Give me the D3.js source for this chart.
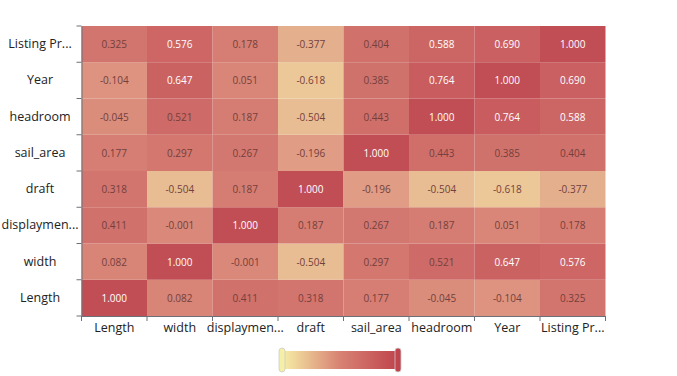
<!DOCTYPE html>
<html>
<head>
<meta charset="utf-8">
<script src="https://cdn.jsdelivr.net/npm/d3@7"></script>
<style>
  body { margin: 0; background: #fff; }
  svg { font-family: "Open Sans", "Noto Sans", sans-serif; }
</style>
</head>
<body>
<div id="chart"></div>
<script>
const xCats = ["Length", "width", "displaymen...", "draft", "sail_area", "headroom", "Year", "Listing Pr..."];
const yCats = ["Length", "width", "displaymen...", "draft", "sail_area", "headroom", "Year", "Listing Pr..."];

// rows follow yCats (bottom to top), columns follow xCats
const corr = [
  [1.000, 0.082, 0.411, 0.318, 0.177, -0.045, -0.104, 0.325],
  [0.082, 1.000, -0.001, -0.504, 0.297, 0.521, 0.647, 0.576],
  [0.411, -0.001, 1.000, 0.187, 0.267, 0.187, 0.051, 0.178],
  [0.318, -0.504, 0.187, 1.000, -0.196, -0.504, -0.618, -0.377],
  [0.177, 0.297, 0.267, -0.196, 1.000, 0.443, 0.385, 0.404],
  [-0.045, 0.521, 0.187, -0.504, 0.443, 1.000, 0.764, 0.588],
  [-0.104, 0.647, 0.051, -0.618, 0.385, 0.764, 1.000, 0.690],
  [0.325, 0.576, 0.178, -0.377, 0.404, 0.588, 0.690, 1.000]
];

const W = 677, H = 376;
const plot = { left: 81.5, top: 26, right: 605.5, bottom: 316 };

const svg = d3.select("#chart").append("svg")
  .attr("width", W).attr("height", H);

const x = d3.scaleBand().domain(xCats).range([plot.left, plot.right]);
const y = d3.scaleBand().domain(yCats).range([plot.bottom, plot.top]);

// visual map de -1 a 1
const colors = ["#f6efa6", "#d88273", "#bf444c"];
const color = d3.scaleLinear()
  .domain([-1, 0, 1])
  .range(colors)
  .interpolate(d3.interpolateRgb);

const fmt = v => d3.format(".3f")(v).replace("\u2212", "-");

const cells = [];
corr.forEach((row, i) => row.forEach((v, j) => cells.push({ r: yCats[i], c: xCats[j], v })));

svg.append("g").selectAll("rect")
  .data(cells).enter().append("rect")
  .attr("x", d => x(d.c))
  .attr("y", d => y(d.r))
  .attr("width", x.bandwidth())
  .attr("height", y.bandwidth())
  .attr("fill", d => color(d.v))
  .attr("fill-opacity", 0.95);

svg.append("g").selectAll("text")
  .data(cells).enter().append("text")
  .attr("x", d => x(d.c) + x.bandwidth() / 2)
  .attr("y", d => y(d.r) + y.bandwidth() / 2)
  .attr("text-anchor", "middle")
  .attr("dominant-baseline", "central")
  .attr("font-size", 10)
  .attr("fill", d => d.v > 0.55 ? "#fff" : "#74403b")
  .text(d => fmt(d.v));

// Eje X
const gx = svg.append("g")
  .attr("transform", `translate(0,${plot.bottom})`)
  .call(d3.axisBottom(x).tickSize(0));
gx.select(".domain").attr("stroke", "#6e7079");
gx.selectAll("text").attr("font-size", 12.5).attr("fill", "#222")
  .attr("font-family", "Open Sans, sans-serif").attr("dy", "1.05em");
gx.selectAll(".sep").data(d3.range(xCats.length + 1)).enter()
  .append("line").attr("class", "sep")
  .attr("x1", i => plot.left + i * x.bandwidth())
  .attr("x2", i => plot.left + i * x.bandwidth())
  .attr("y1", 0).attr("y2", 5)
  .attr("stroke", "#6e7079");

// Eje Y
const gy = svg.append("g")
  .attr("transform", `translate(${plot.left},0)`)
  .call(d3.axisLeft(y).tickSize(0));
gy.select(".domain").attr("stroke", "#6e7079");
gy.selectAll("text").attr("font-size", 12.5).attr("fill", "#222")
  .attr("font-family", "Open Sans, sans-serif")
  .attr("text-anchor", "middle").attr("x", 40 - plot.left);
gy.selectAll(".sep").data(d3.range(yCats.length + 1)).enter()
  .append("line").attr("class", "sep")
  .attr("y1", i => plot.top + i * y.bandwidth())
  .attr("y2", i => plot.top + i * y.bandwidth())
  .attr("x1", 0).attr("x2", -5)
  .attr("stroke", "#6e7079");

// Leyenda continua
const lg = { x: 282, y: 351, w: 116, h: 18 };
const defs = svg.append("defs");
const grad = defs.append("linearGradient").attr("id", "lgrad");
[0, 0.5, 1].forEach((t, i) => grad.append("stop")
  .attr("offset", t).attr("stop-color", colors[i]));
svg.append("rect")
  .attr("x", lg.x).attr("y", lg.y).attr("width", lg.w).attr("height", lg.h)
  .attr("fill", "url(#lgrad)");
[[lg.x - 3, colors[0]], [lg.x + lg.w - 3, colors[2]]].forEach(([hx, c]) => {
  svg.append("rect")
    .attr("x", hx).attr("y", lg.y - 3).attr("width", 6).attr("height", lg.h + 6)
    .attr("rx", 3).attr("fill", c).attr("stroke", "#ccc").attr("stroke-width", 0.8);
});
</script>
</body>
</html>
